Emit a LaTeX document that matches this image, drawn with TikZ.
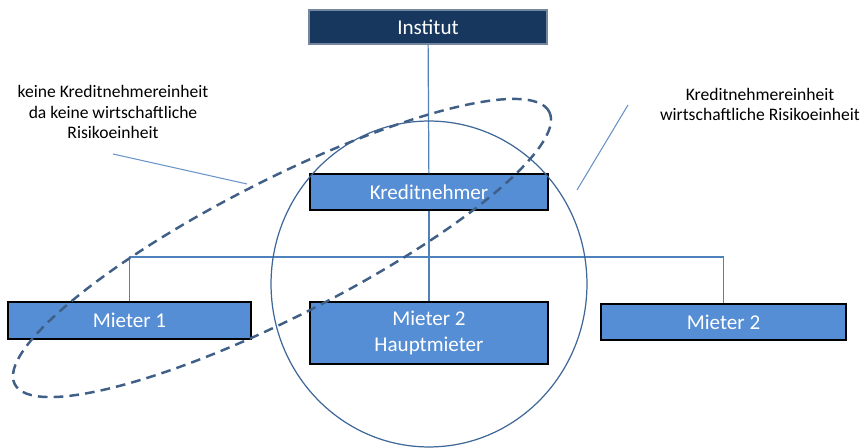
\documentclass[tikz,border=0pt]{standalone}
\usepackage{fontspec}
\setmainfont{Carlito}
\usetikzlibrary{positioning}
\definecolor{navy}{HTML}{17375E}
\definecolor{boxblue}{HTML}{558ED5}
\definecolor{linkblue}{HTML}{4F81BD}
\definecolor{dashblue}{HTML}{3F5F86}

\begin{document}
\begin{tikzpicture}[x=0.02cm, y=-0.02cm,
	unit/.style={draw=black, line width=0.8pt, fill=boxblue, text=white, font=\fontsize{12}{15}\selectfont, align=center, inner sep=2pt},
	link/.style={draw=linkblue, line width=0.7pt},
	callout/.style={draw=linkblue!85, line width=0.6pt},
	note/.style={align=center, font=\fontsize{10}{11.4}\selectfont}]
			\useasboundingbox (0,0) rectangle (866,448);
			
			% Boxes
			\node[unit, draw=navy!60, fill=navy, minimum width=4.76cm, minimum height=0.68cm] (inst) at (428,27) {Institut};
			\node[unit, minimum width=4.76cm, minimum height=0.72cm] (kn) at (429,192) {Kreditnehmer};
			\node[unit, minimum width=4.86cm, minimum height=0.74cm] (m1) at (129.5,320.5) {Mieter 1};
			\node[unit, minimum width=4.76cm, minimum height=1.24cm] (hm) at (429,333) {Mieter 2\\Hauptmieter};
			\node[unit, minimum width=4.9cm, minimum height=0.72cm] (m2) at (723.5,322) {Mieter 2};
			
			% Tree lines
			\coordinate (bar) at (429,257);
			\draw[link] (inst) -- (kn);
			\draw[link] (kn) -- (hm);
			\draw[link] (m1.north) |- (bar) -| (m2.north);
			
			% Groups
			\draw[linkblue!80!black, line width=0.7pt] (429,284) ellipse [x radius=3.16cm, y radius=3.26cm];
			\draw[dashblue, line width=1.4pt, dash pattern=on 5.5pt off 3.5pt, rotate around={27:(282,248)}] (282,248) ellipse [x radius=6cm, y radius=1.36cm];
			
			% Notes
			\node[note] (nokne) at (113,112) {keine Kreditnehmereinheit\\da keine wirtschaftliche\\Risikoeinheit};
			\node[note] (kne) at (760,104) {Kreditnehmereinheit\\wirtschaftliche Risikoeinheit};
			\coordinate (noknestart) at (113,154);
			\coordinate (nokneend) at (247,184);
			\coordinate (knestart) at (628,105);
			\coordinate (kneend) at (577,190);
			\draw[callout] (noknestart) -- (nokneend);
			\draw[callout] (knestart) -- (kneend);
		\end{tikzpicture}
\end{document}
